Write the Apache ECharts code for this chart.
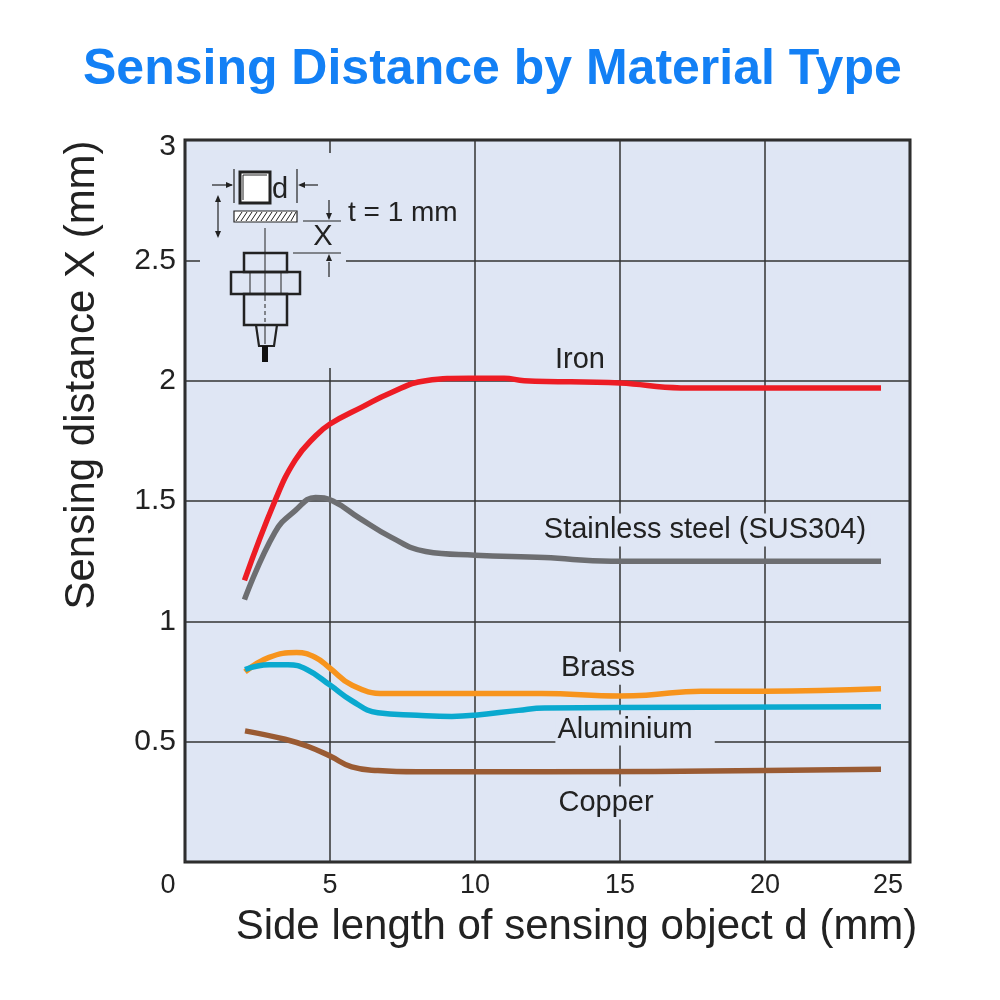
<!DOCTYPE html>
<html>
<head>
<meta charset="utf-8">
<script src="https://cdn.jsdelivr.net/npm/echarts@6/dist/echarts.min.js"></script>
<style>
  html, body { margin: 0; padding: 0; background: #fff; }
  #main { width: 1000px; height: 1000px; }
</style>
</head>
<body>
<div id="main"></div>
<script>
// curves: [d (mm), X (mm)]
var iron = [[2.05,1.17],[3.1,1.50],[3.8,1.67],[4.5,1.77],[5.0,1.82],[6.1,1.89],[7.1,1.95],[8.3,2.0],[9.8,2.01],[11,2.01],[11.7,2.0],[15,1.99],[17.1,1.97],[24,1.97]];
var stainless = [[2.05,1.09],[3.1,1.37],[3.8,1.46],[4.5,1.515],[5.1,1.50],[6.0,1.43],[7.1,1.35],[8.3,1.29],[10,1.275],[12.4,1.265],[14.7,1.25],[24,1.25]];
var brass = [[2.07,0.79],[2.9,0.85],[3.85,0.87],[4.5,0.85],[5.0,0.805],[5.75,0.735],[6.9,0.70],[10,0.70],[12.3,0.70],[15,0.69],[15.9,0.693],[17.8,0.71],[20,0.71],[24,0.72]];
var aluminium = [[2.07,0.80],[2.9,0.82],[3.55,0.82],[4.2,0.80],[5.0,0.735],[5.75,0.67],[6.65,0.62],[8.0,0.61],[9.2,0.605],[10,0.61],[11.5,0.63],[12.4,0.64],[24,0.645]];
var copper = [[2.07,0.545],[3.45,0.51],[4.25,0.48],[5.0,0.44],[5.75,0.395],[6.65,0.38],[8,0.375],[12.4,0.375],[20,0.38],[24,0.385]];

// curve names and where they sit
var labelNames = ['Iron', 'Stainless steel (SUS304)', 'Brass', 'Aluminium', 'Copper'];
var labelX = [13.62, 17.93, 14.24, 15.52, 14.52];
var labelY = [2.085, 1.379, 0.805, 0.548, 0.245];

var xTicks = [0, 5, 10, 15, 20, 25];

var FONT = 'Liberation Sans, Arial, sans-serif';
var PLOT_BG = '#dfe6f4';
var INK = '#222';

var myChart = echarts.init(document.getElementById('main'));

function lineSeries(name, pts, color) {
	return {
		name: name,
		type: 'line',
		data: pts,
		smooth: 0.45,
		showSymbol: false,
		symbol: 'none',
		z: 3,
		lineStyle: { color: color, width: 5.5, cap: 'butt' }
	};
}

var labelData = labelNames.map(function (n, i) {
	var item = { name: n, value: [labelX[i], labelY[i]] };
	if (n === 'Aluminium') item.label = { padding: [1, 22, 1, 2] };
	return item;
});

// inset sketch: sensing object, plate and sensor head
function arrowHead(x, y, dir) {
	var s = 7, w = 3;
	var pts;
	if (dir === 'r') pts = [[x, y], [x - s, y - w], [x - s, y + w]];
	if (dir === 'l') pts = [[x, y], [x + s, y - w], [x + s, y + w]];
	if (dir === 'd') pts = [[x, y], [x - w, y - s], [x + w, y - s]];
	if (dir === 'u') pts = [[x, y], [x - w, y + s], [x + w, y + s]];
	return { type: 'polygon', shape: { points: pts }, style: { fill: INK } };
}
function seg(x1, y1, x2, y2, w, dash) {
	return { type: 'line', shape: { x1: x1, y1: y1, x2: x2, y2: y2 },
		style: { stroke: INK, lineWidth: w || 1.2, lineDash: dash || null } };
}

var sketch = [
	{ type: 'rect', shape: { x: 200, y: 153, width: 146, height: 215 }, style: { fill: PLOT_BG } },
	// object square
	{ type: 'rect', shape: { x: 240, y: 172, width: 30, height: 31 }, style: { fill: '#fff', stroke: INK, lineWidth: 3 } },
	seg(243, 175, 243, 200, 1), seg(243, 175, 267, 175, 1),
	{ type: 'text', style: { x: 272, y: 190, text: 'd', fontSize: 29, fontFamily: FONT, fill: INK, verticalAlign: 'middle' } },
	seg(234, 169, 234, 203), seg(297, 169, 297, 203),
	seg(212, 185, 232, 185), arrowHead(233, 185, 'r'),
	seg(318, 185, 300, 185), arrowHead(298, 185, 'l'),
	seg(218, 197, 218, 236), arrowHead(218, 195, 'u'), arrowHead(218, 238, 'd'),
	// plate
	{ type: 'rect', shape: { x: 234, y: 211, width: 63, height: 11 }, style: { fill: '#fff', stroke: INK, lineWidth: 1.2 } }
];
for (var hx = 236; hx < 295; hx += 5) {
	sketch.push(seg(hx, 221, Math.min(hx + 6, 296), 212, 1));
}
sketch = sketch.concat([
	// centre line
	seg(265, 228, 265, 297, 1), seg(265, 297, 265, 325, 1, [4, 3]), seg(265, 325, 265, 344, 1),
	// sensor body
	{ type: 'rect', shape: { x: 244, y: 253, width: 43, height: 19 }, style: { fill: 'none', stroke: INK, lineWidth: 2.5 } },
	{ type: 'rect', shape: { x: 231, y: 272, width: 69, height: 22 }, style: { fill: 'none', stroke: INK, lineWidth: 2.5 } },
	{ type: 'rect', shape: { x: 244, y: 294, width: 43, height: 31 }, style: { fill: 'none', stroke: INK, lineWidth: 2.5 } },
	seg(250, 272, 250, 294, 1), seg(281, 272, 281, 294, 1),
	{ type: 'polygon', shape: { points: [[256, 325], [277, 325], [274, 346], [259, 346]] }, style: { fill: 'none', stroke: INK, lineWidth: 2.2 } },
	{ type: 'rect', shape: { x: 262, y: 346, width: 6, height: 16 }, style: { fill: '#111' } },
	// X dimension
	seg(303, 221, 341, 221), seg(293, 253, 341, 253),
	seg(329, 200, 329, 213), arrowHead(329, 220, 'd'),
	seg(329, 277, 329, 262), arrowHead(329, 254, 'u'),
	{ type: 'text', style: { x: 323, y: 237, text: 'X', fontSize: 29, fontFamily: FONT, fill: INK, align: 'center', verticalAlign: 'middle' } },
	{ type: 'text', style: { x: 348, y: 213, text: 't = 1 mm', fontSize: 28, fontFamily: FONT, fill: INK, verticalAlign: 'middle' } }
]);

var option = {
	backgroundColor: '#fff',
	animation: false,
	title: {
		text: 'Sensing Distance by Material Type',
		left: 78,
		top: 40,
		textStyle: { fontSize: 50, fontWeight: 'bold', color: '#1380f5', fontFamily: FONT }
	},
	grid: {
		left: 185, right: 90, top: 140, bottom: 138,
		show: true,
		backgroundColor: PLOT_BG,
		borderColor: INK,
		borderWidth: 3
	},
	xAxis: {
		type: 'value',
		min: 0, max: 25, interval: 5,
		name: 'Side length of sensing object d (mm)',
		nameLocation: 'middle',
		nameGap: 44,
		nameTextStyle: { fontSize: 42, color: INK, fontFamily: FONT, padding: [0, 0, 0, 58] },
		axisLine: { show: false },
		axisTick: { show: false },
		splitLine: { show: true, lineStyle: { color: '#333', width: 1.5 } },
		axisLabel: {
			fontSize: 27, color: INK, fontFamily: FONT, margin: 10,
			customValues: xTicks,
			formatter: function (v) {
				if (v === 0) return '{a|0}';
				if (v === 25) return '{b|25}';
				return String(v);
			},
			rich: {
				a: { fontSize: 27, color: INK, fontFamily: FONT, padding: [0, 34, 0, 0] },
				b: { fontSize: 27, color: INK, fontFamily: FONT, padding: [0, 44, 0, 0] }
			}
		}
	},
	yAxis: {
		type: 'value',
		min: 0, max: 3, interval: 0.5,
		name: 'Sensing distance X (mm)',
		nameLocation: 'middle',
		nameRotate: 90,
		nameGap: 82,
		nameTextStyle: { fontSize: 42, color: INK, fontFamily: FONT, padding: [0, 0, 0, 252] },
		axisLine: { show: false },
		axisTick: { show: false },
		splitLine: { show: true, lineStyle: { color: '#333', width: 1.5 } },
		axisLabel: {
			fontSize: 30, color: INK, fontFamily: FONT, margin: 9,
			formatter: function (v) {
				if (v === 0) return '';
				if (v === 3) return '{t|3}';
				return String(v);
			},
			rich: {
				t: { fontSize: 30, color: INK, fontFamily: FONT, padding: [14, 0, 0, 0] }
			}
		}
	},
	graphic: { elements: sketch.map(function (e) { e.z = 5; return e; }) },
	series: [
		lineSeries('Iron', iron, '#ed1c24'),
		lineSeries('Stainless steel (SUS304)', stainless, '#6d6e71'),
		lineSeries('Brass', brass, '#f7941d'),
		lineSeries('Aluminium', aluminium, '#0aa9cf'),
		lineSeries('Copper', copper, '#9a5b33'),
		{
			type: 'scatter',
			data: labelData,
			symbolSize: 0,
			silent: true,
			z: 2,
			itemStyle: { opacity: 1 },
			label: {
				show: true,
				position: 'inside',
				formatter: '{b}',
				fontSize: 29,
				color: INK,
				opacity: 1,
				fontFamily: FONT,
				backgroundColor: PLOT_BG,
				padding: [2, 4, 2, 4]
			}
		}
	]
};

myChart.setOption(option, true);
</script>
</body>
</html>
